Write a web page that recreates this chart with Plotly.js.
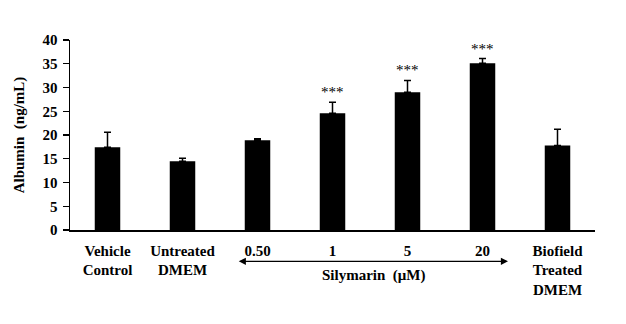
<!DOCTYPE html>
<html>
<head>
<meta charset="utf-8">
<script src="https://cdn.plot.ly/plotly-3.0.1.min.js"></script>
<style>html,body{margin:0;padding:0;background:#fff;}#chart{width:626px;height:324px;}</style>
</head>
<body>
<div id="chart"></div>
<script>
const categories = ["Vehicle<br>Control", "Untreated<br>DMEM", "0.50", "1", "5", "20", "Biofield<br>Treated<br>DMEM"];
const albumin = [17.4, 14.5, 18.9, 24.6, 29.0, 35.1, 17.8];
const albuminErr = [3.2, 0.6, 0.3, 2.3, 2.5, 1.0, 3.4];
const significance = ["", "", "", "***", "***", "***", ""];
const yTicks = [0, 5, 10, 15, 20, 25, 30, 35, 40];
const groupLabel = "Silymarin  (μM)";
const groupStart = 1.73, groupEnd = 5.34, groupCenter = 3.55;

const FONT = "Liberation Serif, Times New Roman, serif";
const idx = categories.map((c, i) => i);

const trace = {
  type: "bar",
  x: idx,
  y: albumin,
  width: 0.34,
  marker: {color: "#000000", line: {width: 0}},
  error_y: {type: "data", symmetric: false, array: albuminErr, arrayminus: albuminErr.map(() => 0),
            color: "#000000", thickness: 1.5, width: 3.5},
  hoverinfo: "none"
};

const annotations = [];
significance.forEach((s, i) => {
  if (s) annotations.push({x: i, y: albumin[i] + albuminErr[i], xref: "x", yref: "y", text: s,
    showarrow: false, yanchor: "bottom", yshift: 0, font: {family: FONT, size: 15, color: "#000"}});
});
annotations.push({x: groupEnd, y: -0.165, xref: "x", yref: "paper", ax: groupStart, ay: 0, axref: "x", ayref: "pixel",
  text: "", showarrow: true, arrowhead: 2, startarrowhead: 2, arrowside: "end+start", arrowsize: 1.1, startarrowsize: 1.1,
  arrowwidth: 1.3, arrowcolor: "#000"});
annotations.push({x: groupCenter, y: -0.242, xref: "x", yref: "paper", text: "<b>" + groupLabel + "</b>", showarrow: false,
  yanchor: "middle", font: {family: FONT, size: 15, color: "#000"}});

const layout = {
  width: 626, height: 324,
  margin: {l: 70, r: 31, t: 40, b: 94, pad: 0},
  paper_bgcolor: "#fff", plot_bgcolor: "#fff",
  font: {family: FONT, size: 14, color: "#000"},
  showlegend: false,
  xaxis: {
    range: [-0.5, 6.5], tickmode: "array", tickvals: idx,
    ticktext: categories.map(c => "<b>" + c + "</b>"),
    showline: true, linecolor: "#000", linewidth: 1.5, showgrid: false, zeroline: false,
    ticks: "", ticklabelstandoff: 6, tickfont: {family: FONT, size: 15, color: "#000"}, automargin: false, fixedrange: true
  },
  yaxis: {
    range: [0, 40], tickmode: "array", tickvals: yTicks, ticktext: yTicks.map(v => "<b>" + v + "</b>"),
    showline: true, linecolor: "#000", linewidth: 1.5, showgrid: false, zeroline: false,
    ticks: "outside", ticklen: 6, tickwidth: 1.3, tickcolor: "#000", ticklabelstandoff: 2,
    tickfont: {family: FONT, size: 15, color: "#000"},
    title: {text: "<b>Albumin  (ng/mL)</b>", font: {family: FONT, size: 15, color: "#000"}, standoff: 14},
    automargin: false, fixedrange: true
  },
  annotations: annotations
};

Plotly.newPlot("chart", [trace], layout, {displayModeBar: false, staticPlot: true});
</script>
</body>
</html>
